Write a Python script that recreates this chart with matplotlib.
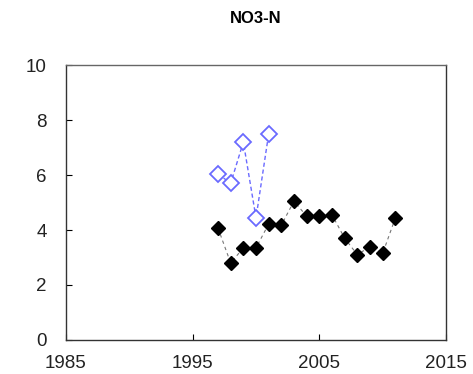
import numpy as np
import matplotlib.pyplot as plt

plt.rcParams['font.family'] = ['Liberation Sans', 'DejaVu Sans']

# NO3-N series
years_black = [1997, 1998, 1999, 2000, 2001, 2002, 2003, 2004, 2005, 2006, 2007, 2008, 2009, 2010, 2011]
no3_black = [4.07, 2.8, 3.35, 3.35, 4.22, 4.18, 5.05, 4.5, 4.5, 4.55, 3.7, 3.1, 3.4, 3.15, 4.44]

years_blue = [1997, 1998, 1999, 2000, 2001]
no3_blue = [6.04, 5.7, 7.2, 4.44, 7.5]

xticks = [1985, 1995, 2005, 2015]
yticks = [0, 2, 4, 6, 8, 10]

fig = plt.figure(figsize=(4.73, 3.74), dpi=100)
ax = fig.add_axes([0.1395, 0.091, 0.8035, 0.735])

ax.plot(years_black, no3_black, linestyle=(0, (3, 3)), color="#777777", linewidth=0.8,
        marker="D", markersize=7.5, markerfacecolor="black", markeredgecolor="black")
ax.plot(years_blue, no3_blue, linestyle=(0, (3, 2)), color="#6a6aff", linewidth=1.0,
        marker="D", markersize=8, markerfacecolor="white", markeredgecolor="#6a6aff",
        markeredgewidth=1.3)

ax.set_xlim(1985, 2015)
ax.set_ylim(0, 10)
ax.set_xticks(xticks)
ax.set_yticks(yticks)
ax.tick_params(direction="in", length=4, labelsize=13.5, labelcolor="#222222")
ax.tick_params(axis="x", pad=11)
ax.tick_params(axis="y", pad=14)
for s in ax.spines.values():
    s.set_color("#333333")
    s.set_linewidth(1.0)
ax.spines["top"].set_color("#666666")

ax.set_title("NO3-N", fontsize=12, fontweight="bold", pad=30)

fig.savefig("out.png", dpi=100)
